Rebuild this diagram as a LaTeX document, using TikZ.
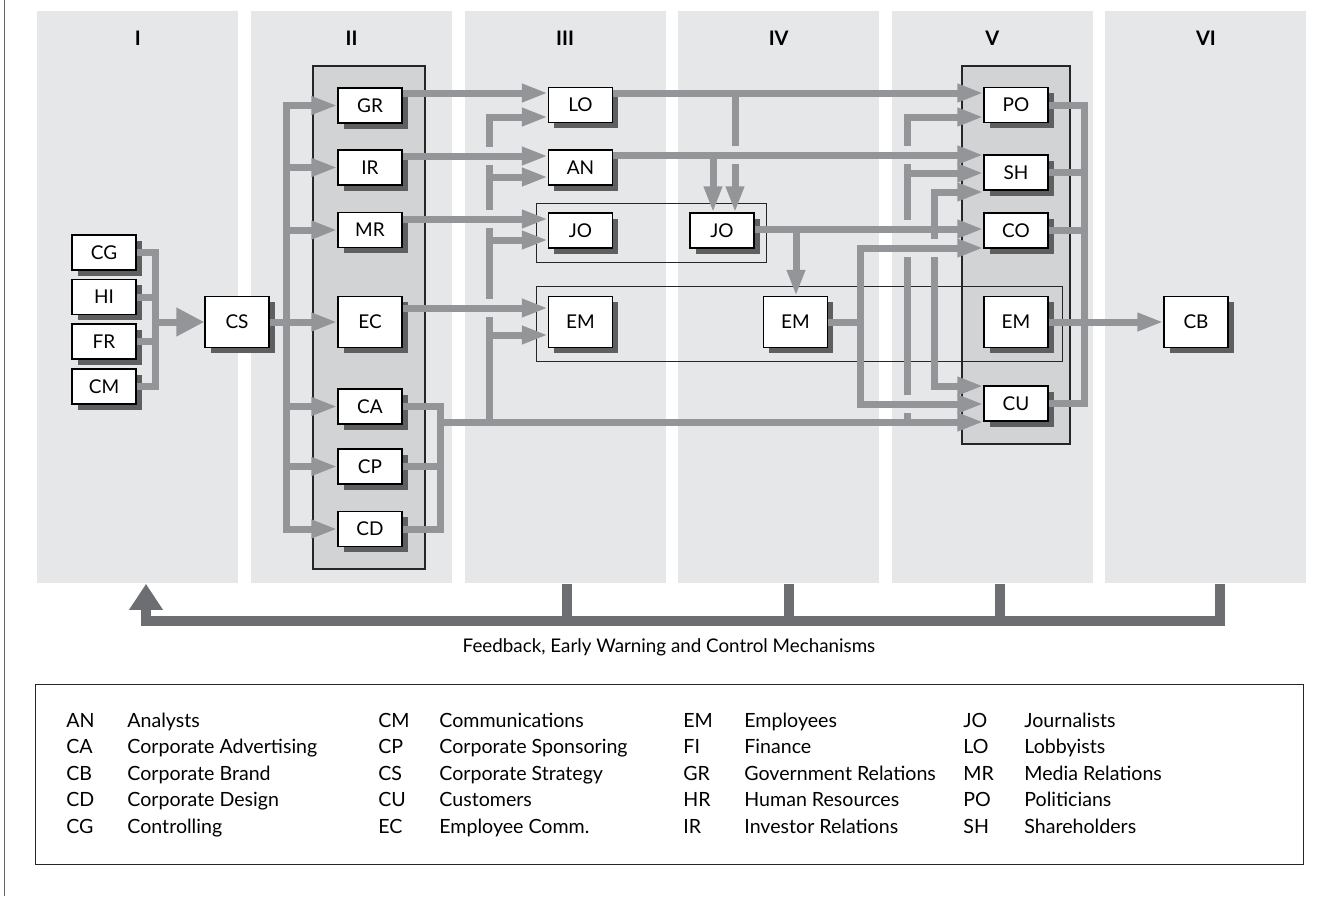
\documentclass[tikz,border=0pt]{standalone}
\usepackage{fontspec}
\setmainfont{Lato}
\usetikzlibrary{arrows.meta,shadows}
\definecolor{panelgray}{HTML}{E6E7E8}
\definecolor{groupgray}{HTML}{D1D3D4}
\definecolor{flowgray}{HTML}{939598}
\definecolor{backgray}{HTML}{6D6E71}
\definecolor{shadegray}{HTML}{5E5F61}
\tikzset{
  panel/.style={fill=panelgray, inner sep=0pt, minimum width=100.5pt, minimum height=286pt, anchor=north west},
  numeral/.style={font=\bfseries\fontsize{10}{12}\selectfont},
  group/.style={fill=groupgray, draw=black!85, line width=0.6pt},
  frame/.style={draw=black!85, line width=0.5pt},
  unit/.style={
    draw,
    fill=white,
    line width=0.6pt,
    minimum width=32pt,
    minimum height=17.5pt,
    inner sep=0pt,
    font=\fontsize{9.5}{11}\selectfont,
    drop shadow={shadow xshift=2.75pt, shadow yshift=-2.75pt, fill=shadegray, opacity=1}
  },
  tallunit/.style={unit, minimum height=25.5pt},
  link/.style={draw=flowgray, line width=3.5pt},
  flow/.style={link, -{Triangle[length=13pt,width=8.5pt]}},
  bigflow/.style={link, -{Triangle[length=14pt,width=13.5pt]}},
  feedback/.style={draw=backgray, line width=5pt},
  legend/.style={anchor=base west, inner sep=0pt, font=\fontsize{9.8}{13.25}\selectfont}
}
% white-out where a bus is crossed by another line
\newcommand{\linegap}[1]{\fill[panelgray] (#1) ++(-5,-9) rectangle ++(10,18);}

\begin{document}
\begin{tikzpicture}[x=0.5pt,y=-0.5pt]
  \useasboundingbox (0,0) rectangle (1339,896);
  \draw[line width=0.6pt, draw=black!60] (4.5,0) -- (4.5,896);

  % stages
  \node[panel] (p1) at (37,11) {};
  \node[panel] (p2) at (250.6,11) {};
  \node[panel] (p3) at (464.2,11) {};
  \node[panel] (p4) at (677.8,11) {};
  \node[panel] (p5) at (891.4,11) {};
  \node[panel] (p6) at (1105,11) {};
  \node[numeral] (n1) at ([yshift=-13.5pt]p1.north) {I};
  \node[numeral] (n2) at ([yshift=-13.5pt]p2.north) {II};
  \node[numeral] (n3) at ([yshift=-13.5pt]p3.north) {III};
  \node[numeral] (n4) at ([yshift=-13.5pt]p4.north) {IV};
  \node[numeral] (n5) at ([yshift=-13.5pt]p5.north) {V};
  \node[numeral] (n6) at ([yshift=-13.5pt]p6.north) {VI};

  \draw[group] (313,66) rectangle (425,569);
  \draw[group] (962,66) rectangle (1070,444);
  \draw[frame] (536,203) rectangle (766,262);
  \draw[frame] (536,286) rectangle (1062,361);

  % stage I
  \node[unit] (cg) at (104,252.5) {CG};
  \node[unit] (hi) at (104,297) {HI};
  \node[unit] (fr) at (104,341.5) {FR};
  \node[unit] (cm) at (104,386.5) {CM};
  \node[tallunit] (cs) at (237,322) {CS};
  % stage II
  \node[unit] (gr) at (370,105.5) {GR};
  \node[unit] (ir) at (370,167.5) {IR};
  \node[unit] (mr) at (370,230) {MR};
  \node[tallunit] (ec) at (370,322) {EC};
  \node[unit] (ca) at (370,406.5) {CA};
  \node[unit] (cp) at (370,466.5) {CP};
  \node[unit] (cd) at (370,529) {CD};
  % stage III
  \node[unit] (lo) at (580.5,105) {LO};
  \node[unit] (an) at (580.5,167.5) {AN};
  \node[unit] (jo3) at (580.5,230.5) {JO};
  \node[tallunit] (em3) at (580.5,322) {EM};
  % stage IV
  \node[unit] (jo4) at (722,230.5) {JO};
  \node[tallunit] (em4) at (795.5,322) {EM};
  % stage V
  \node[unit] (po) at (1016,105) {PO};
  \node[unit] (sh) at (1016,172.5) {SH};
  \node[unit] (co) at (1016,230.5) {CO};
  \node[tallunit] (em5) at (1016,322) {EM};
  \node[unit] (cu) at (1016,403.5) {CU};
  % stage VI
  \node[tallunit] (cb) at (1196,322) {CB};

  % I -> CS
  \coordinate (j1) at (155,322);
  \draw[link] (cg.east) -| (j1);
  \draw[link] (cm.east) -| (j1);
  \draw[link] (hi.east) -- (hi.east -| j1);
  \draw[link] (fr.east) -- (fr.east -| j1);
  \draw[bigflow] (j1) -- (cs.west);

  % CS -> II
  \coordinate (j2) at (286,322);
  \draw[flow] (cs.east) -- (ec.west);
  \draw[flow] (j2) |- (gr.west);
  \draw[flow] (j2) |- (cd.west);
  \draw[flow] (j2 |- ir.west) -- (ir.west);
  \draw[flow] (j2 |- mr.west) -- (mr.west);
  \draw[flow] (j2 |- ca.west) -- (ca.west);
  \draw[flow] (j2 |- cp.west) -- (cp.west);

  % CA, CP, CD -> CU
  \coordinate (j3) at (440,422);
  \draw[link] (ca.east) -| (j3);
  \draw[link] (cd.east) -| (j3);
  \draw[link] (cp.east) -- (cp.east -| j3);
  \draw[flow] (j3) -- (j3 -| cu.west);

  % branches of that line
  \coordinate (b3) at (489,422);
  \draw[flow] (b3) |- (lo.west |- 0,117);
  \draw[flow] (b3 |- 0,177) -- (an.west |- 0,177);
  \draw[flow] (b3 |- 0,240) -- (jo3.west |- 0,240);
  \draw[flow] (b3 |- 0,335) -- (em3.west |- 0,335);
  \coordinate (b5) at (907,422);
  \draw[flow] (b5) |- (po.west |- 0,117);
  \draw[flow] (b5 |- 0,173) -- (sh.west |- 0,173);

  % JO (IV) -> SH, CU
  \coordinate (b6) at (934,229);
  \draw[flow] (b6) |- (sh.west |- 0,192);
  \draw[flow] (b6) |- (cu.west |- 0,386);

  % into JO and EM (IV)
  \coordinate (d1) at (735,93);
  \coordinate (d2) at (713,155);
  \coordinate (d3) at (796,229);
  \draw[flow] (d1) -- (d1 |- jo4.north);
  \draw[flow] (d2) -- (d2 |- jo4.north);
  \draw[flow] (d3) -- (d3 |- em4.north);

  \linegap{489,156} \linegap{489,219} \linegap{489,308}
  \linegap{735,155}
  \linegap{907,155} \linegap{907,229} \linegap{907,238} \linegap{907,248} \linegap{907,404}
  \linegap{934,248}

  % EM (IV) -> CO, CU
  \coordinate (b4) at (860,322);
  \draw[link] (em4.east) -- (b4);
  \draw[flow] (b4) |- (co.west |- 0,248);
  \draw[flow] (b4) |- (cu.west |- 0,404);

  \draw[flow] (gr.east |- 0,93) -- (lo.west |- 0,93);
  \draw[flow] (lo.east |- 0,93) -- (po.west |- 0,93);
  \draw[flow] (ir.east |- 0,156) -- (an.west |- 0,156);
  \draw[flow] (an.east |- 0,155) -- (sh.west |- 0,155);
  \draw[flow] (mr.east |- 0,219) -- (jo3.west |- 0,219);
  \draw[flow] (jo4.east |- 0,229) -- (co.west |- 0,229);
  \draw[flow] (ec.east |- 0,308) -- (em3.west |- 0,308);

  % V -> CB
  \coordinate (j5) at (1084,322);
  \draw[link] (po.east) -| (j5);
  \draw[link] (cu.east) -| (j5);
  \draw[link] (sh.east) -- (sh.east -| j5);
  \draw[link] (co.east) -- (co.east -| j5);
  \draw[flow] (em5.east) -- (cb.west);

  % feedback
  \coordinate (fb) at (146,621);
  \draw[feedback, -{Triangle[length=13pt,width=16pt]}] ([xshift=7pt]p6.south) |- (fb) -- (fb |- p1.south);
  \draw[feedback] ([xshift=1pt]p3.south) -- ([xshift=1pt]p3.south |- fb);
  \draw[feedback] ([xshift=5pt]p4.south) -- ([xshift=5pt]p4.south |- fb);
  \draw[feedback] ([xshift=4pt]p5.south) -- ([xshift=4pt]p5.south |- fb);
  \node[font=\fontsize{9.4}{11}\selectfont] (fbtext) at (669,647) {Feedback, Early Warning and Control Mechanisms};

  % legend
  \draw[frame] (35,684) rectangle (1303,864);
  \node[legend] (leg1) at (66,727) {\begin{tabular}[t]{@{}p{30.5pt}@{}l@{}}
    AN & Analysts\\ CA & Corporate Advertising\\ CB & Corporate Brand\\ CD & Corporate Design\\ CG & Controlling
  \end{tabular}};
  \node[legend] (leg2) at (378,727) {\begin{tabular}[t]{@{}p{30.5pt}@{}l@{}}
    CM & Communications\\ CP & Corporate Sponsoring\\ CS & Corporate Strategy\\ CU & Customers\\ EC & Employee Comm.
  \end{tabular}};
  \node[legend] (leg3) at (683,727) {\begin{tabular}[t]{@{}p{30.5pt}@{}l@{}}
    EM & Employees\\ FI & Finance\\ GR & Government Relations\\ HR & Human Resources\\ IR & Investor Relations
  \end{tabular}};
  \node[legend] (leg4) at (963,727) {\begin{tabular}[t]{@{}p{30.5pt}@{}l@{}}
    JO & Journalists\\ LO & Lobbyists\\ MR & Media Relations\\ PO & Politicians\\ SH & Shareholders
  \end{tabular}};
\end{tikzpicture}
\end{document}
